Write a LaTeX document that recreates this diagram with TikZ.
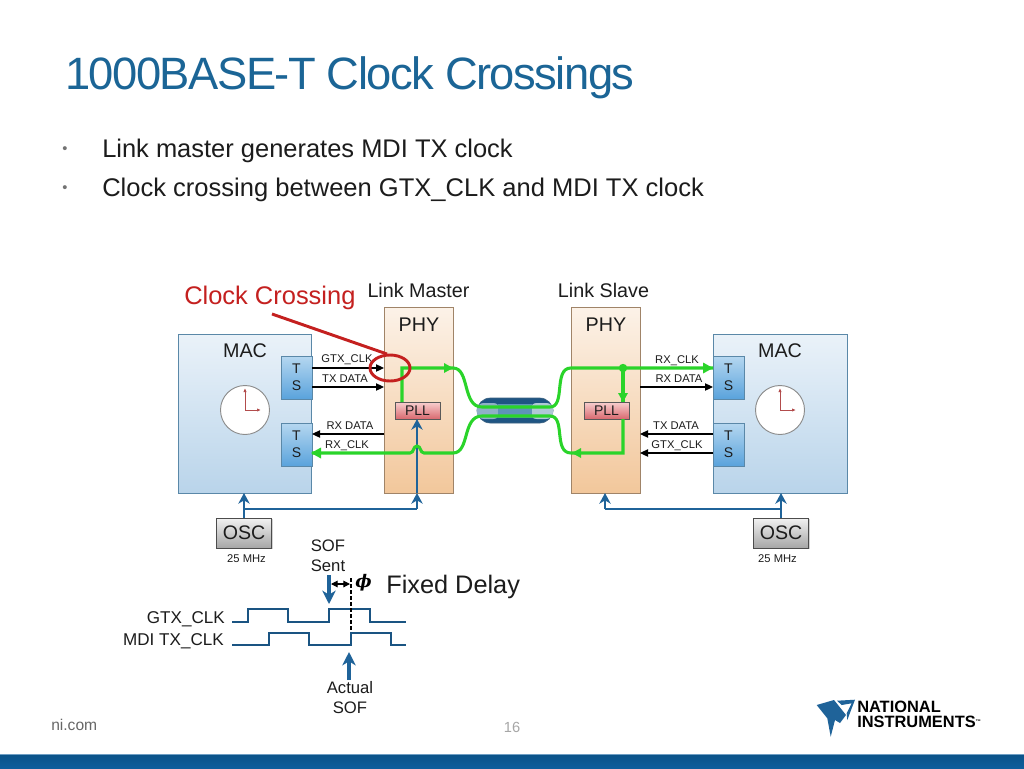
\documentclass[tikz,border=0pt]{standalone}
\usepackage{fontspec}
\setmainfont{Liberation Sans}
\newfontfamily\titlefont[LetterSpace=-3.4]{Liberation Sans}
\newfontfamily\phifont{DejaVu Serif}
\usetikzlibrary{arrows.meta,shadows,calc}
\definecolor{titleblue}{HTML}{1B6596}
\definecolor{wireblue}{HTML}{1F6399}
\definecolor{greenw}{HTML}{2AD42A}
\definecolor{txt}{HTML}{1C1C1C}
\definecolor{crossred}{HTML}{C4201F}
\definecolor{frameblue}{HTML}{5A88A8}
\definecolor{frametan}{HTML}{A08468}
\definecolor{macT}{HTML}{EAF2F9}
\definecolor{macB}{HTML}{B9D4EA}
\definecolor{phyT}{HTML}{FCF2E8}
\definecolor{phyB}{HTML}{F2C79B}
\definecolor{tsT}{HTML}{B5D7F0}
\definecolor{tsB}{HTML}{5AA3DC}
\definecolor{pllT}{HTML}{F8CFCF}
\definecolor{pllB}{HTML}{D9696F}
\definecolor{oscT}{HTML}{F2F2F2}
\definecolor{oscB}{HTML}{A6A6A6}
\definecolor{barT}{HTML}{0B5288}
\definecolor{barB}{HTML}{0E5E9C}
\definecolor{cableD}{HTML}{1F5583}
\definecolor{cableM}{HTML}{5E93B8}
\definecolor{cableL}{HTML}{8FB0C6}
\definecolor{cableP}{HTML}{AFC8D6}
\tikzset{
  macshape/.style={draw=frameblue,line width=.7pt,inner sep=0,outer sep=0,rectangle,
    top color=macT,bottom color=macB},
  physhape/.style={draw=frametan,line width=.7pt,inner sep=0,outer sep=0,rectangle,
    top color=phyT,bottom color=phyB,
    minimum width=51.75pt,minimum height=139.5pt},
  tsshape/.style={draw=frameblue,line width=.6pt,inner sep=0,outer sep=0,rectangle,
    top color=tsT,bottom color=tsB,
    minimum width=23.25pt,minimum height=32.25pt,align=center,
    font=\fontsize{10.5}{12.5}\selectfont,text=txt},
  pllshape/.style={draw=black!65,line width=.7pt,inner sep=0,outer sep=0,rectangle,
    top color=pllT,bottom color=pllB,
    minimum width=33.75pt,minimum height=12.75pt,font=\fontsize{10.5}{10.5}\selectfont,text=txt},
  oscshape/.style={draw=black!70,line width=.7pt,inner sep=0,outer sep=0,rectangle,
    top color=oscT,bottom color=oscB,
    minimum width=41.5pt,minimum height=22.5pt,font=\fontsize{14.7}{14.7}\selectfont,text=txt,
    drop shadow={shadow xshift=.8pt,shadow yshift=-.8pt,fill=black!35}},
  clockshape/.style={circle,draw=black!45,line width=.7pt,fill=white,minimum size=36.75pt,inner sep=0},
  lab/.style={font=\fontsize{14.8}{14.8}\selectfont,text=txt,inner sep=0},
  smalllab/.style={font=\fontsize{12.5}{12.5}\selectfont,text=txt,inner sep=0,anchor=base},
  clklab/.style={font=\fontsize{12.8}{12.8}\selectfont,text=txt,inner sep=0,anchor=base east},
  siglab/.style={font=\fontsize{8.4}{8.4}\selectfont,text=txt,inner sep=0},
  blk/.style={black,line width=.8pt,-{Triangle[length=6pt,width=5.5pt]}},
  grn/.style={greenw,line width=2.3pt},
  blu/.style={wireblue,line width=2.1pt},
  bluarrow/.style={wireblue,line width=2.1pt,-{Stealth[length=8pt,width=8.5pt,inset=2.5pt]}},
  bigarrow/.style={wireblue,line width=2.3pt,-{Stealth[length=10pt,width=10pt,inset=3pt]}},
  wave/.style={draw=wireblue!85!black,line width=.9pt},
  hand/.style={draw=red!40!gray,line width=.7pt,-{Latex[length=3pt,width=2.5pt]}},
}
\begin{document}
\begin{tikzpicture}[x=.75pt,y=-.75pt]
\useasboundingbox (0,0) rectangle (1024,768);
\fill[white] (0,0) rectangle (1024,768);
% footer bar
\shade[top color=barT,bottom color=barB] (0,754) rectangle (1024,768);
\fill[barB!60!white] (0,754) rectangle (1024,755);
% title and bullets
\node[anchor=base west,inner sep=0,text=titleblue,font=\fontsize{34}{34}\titlefont] (title) at (65,89) {1000BASE-T Clock Crossings};
\node[anchor=base,inner sep=0,text=black!55,font=\fontsize{11}{11}\selectfont] (b1) at (65,153) {•};
\node[anchor=base,inner sep=0,text=black!55,font=\fontsize{11}{11}\selectfont] (b2) at (65,192) {•};
\node[anchor=base west,inner sep=0,text=txt,font=\fontsize{19.1}{19.1}\selectfont] (t1) at (102,157) {Link master generates MDI TX clock};
\node[anchor=base west,inner sep=0,text=txt,font=\fontsize{19.15}{19.15}\selectfont] (t2) at (102,196) {Clock crossing between GTX\_CLK and MDI TX clock};
% boxes
\node[macshape,minimum width=99.75pt,minimum height=119.25pt,anchor=north west] (macL) at (178,334) {};
\node[macshape,minimum width=100.5pt,minimum height=119.25pt,anchor=north west] (macR) at (713,334) {};
\node[physhape,anchor=north west] (phyL) at (384,307) {};
\node[physhape,anchor=north west] (phyR) at (571,307) {};
\node[lab] (macLt) at (245,351) {MAC};
\node[lab] (macRt) at (780,351) {MAC};
\node[lab] (phyLt) at (419,325) {PHY};
\node[lab] (phyRt) at (606,325) {PHY};
\node[tsshape,anchor=north west] (tsLa) at (281,356) {T\\S};
\node[tsshape,anchor=north west] (tsLb) at (281,423) {T\\S};
\node[tsshape,anchor=north west] (tsRa) at (713,356) {T\\S};
\node[tsshape,anchor=north west] (tsRb) at (713,423) {T\\S};
\node[clockshape] (clkL) at (245,410) {};
\node[clockshape] (clkR) at (780,410) {};
\draw[hand] (clkL.center) -- ++(0,-22);
\draw[hand] (clkL.center) -- ++(16,0);
\draw[hand] (clkR.center) -- ++(0,-22);
\draw[hand] (clkR.center) -- ++(16,0);
% cable
\path[draw=cableD!70!gray,line width=.5pt,fill=cableD,rounded corners=10pt] (477,398) rectangle (553,423);
\fill[cableL,rounded corners=5pt] (477,403) rectangle (500,419);
\fill[cableP,rounded corners=5pt] (530,403) rectangle (553,419);
\fill[cableM] (498,404) rectangle (532,418);
\node[pllshape] (pllL) at (417.5,410.5) {PLL};
\node[pllshape] (pllR) at (606.5,410.5) {PLL};
% coordinates
\coordinate (cabLt) at (482,407);
\coordinate (cabLb) at (482,416);
\coordinate (cabRt) at (550,407);
\coordinate (cabRb) at (550,416);
\coordinate (lTop) at (453,368);
\coordinate (lBot) at (453,453);
\coordinate (rTop) at (571,368);
\coordinate (rBot) at (571,453);
% black signals
\draw[blk] (tsLa.east |- 0,368) -- (phyL.west |- 0,368);
\draw[blk] (tsLa.east |- 0,387) -- (phyL.west |- 0,387);
\draw[blk] (phyL.west |- 0,434) -- (tsLb.east |- 0,434);
\draw[blk] (phyR.east |- 0,387) -- (tsRa.west |- 0,387);
\draw[blk] (tsRb.west |- 0,434) -- (phyR.east |- 0,434);
\draw[blk] (tsRb.west |- 0,453) -- (phyR.east |- 0,453);
\node[siglab,anchor=base] (l1) at (347,362) {GTX\_CLK};
\node[siglab,anchor=base] (l2) at (345,382) {TX DATA};
\node[siglab,anchor=base] (l3) at (350,429) {RX DATA};
\node[siglab,anchor=base] (l4) at (347,448) {RX\_CLK};
\node[siglab,anchor=base] (r1) at (677,363) {RX\_CLK};
\node[siglab,anchor=base] (r2) at (679,382) {RX DATA};
\node[siglab,anchor=base] (r3) at (676,429) {TX DATA};
\node[siglab,anchor=base] (r4) at (677,448) {GTX\_CLK};
% blue clocks
\node[oscshape] (oscL) at (244,533) {OSC};
\node[oscshape] (oscR) at (781,533) {OSC};
\coordinate (busL) at (244,509);
\coordinate (busLp) at (417,509);
\coordinate (busR) at (781,509);
\coordinate (busRp) at (605,509);
\draw[blu] (oscL.north) -- (busL) -- (busLp);
\draw[blu] (oscR.north) -- (busR) -- (busRp);
\draw[bluarrow] (busL) -- (macL.south -| busL);
\draw[bluarrow] (busLp) -- (phyL.south -| busLp);
\draw[bluarrow] (busR) -- (macR.south -| busR);
\draw[bluarrow] (busRp) -- (phyR.south -| busRp);
\draw[bluarrow] (phyL.south -| busLp) -- (pllL.south -| busLp);
% green wires
\draw[grn] (pllL.north -| 402,0) -- (402,368) -- (lTop) .. controls (470,368) and (462,407) .. (cabLt) -- (cabRt) .. controls (566,407) and (553,368) .. (rTop) -- (tsRa.west |- rTop);
\draw[grn] (cabLb) .. controls (462,416) and (470,453) .. (lBot) -- (424,453) .. controls (420,453) and (421,446) .. (417,446) .. controls (413,446) and (414,453) .. (410,453) -- (tsLb.east |- lBot);
\draw[grn] (cabLb) -- (cabRb) .. controls (566,416) and (553,453) .. (rBot) -- (623,453) -- (pllR.south -| 623,0);
\draw[grn] (623,368) -- (pllR.north -| 623,0);
\fill[greenw] (623,368) circle (4.2);
\fill[greenw] (453,368) -- ++(-9,-5) -- ++(0,10) -- cycle;
\fill[greenw] (713,368) -- ++(-10,-5.5) -- ++(0,11) -- cycle;
\fill[greenw] (623,402) -- ++(-5,-9) -- ++(10,0) -- cycle;
\fill[greenw] (572,453) -- ++(9,-5) -- ++(0,10) -- cycle;
\fill[greenw] (311,453) -- ++(10,-5.5) -- ++(0,11) -- cycle;
% red call-out
\draw[crossred,line width=2.2pt] (390,368) ellipse (20 and 13);
\coordinate (callout) at (272,314);
\draw[crossred,line width=2.2pt] (callout) -- (387,354);
\node[anchor=base west,inner sep=0,text=crossred,font=\fontsize{19.1}{19.1}\selectfont] (cc) at (184,304) {Clock Crossing};
\node[lab,anchor=base] (lm) at (418.5,297) {Link Master};
\node[lab,anchor=base] (ls) at (603.5,297) {Link Slave};
\node[siglab] (m1) at (246.5,559) {25 MHz};
\node[siglab] (m2) at (777.5,559) {25 MHz};
% timing
\draw[wave] (232,622) -- (248,622) -- (248,609) -- (288,609) -- (288,622) -- (329,622) -- (329,609) -- (370,609) -- (370,622) -- (406,622);
\draw[wave] (232,645) -- (269,645) -- (269,633) -- (309,633) -- (309,645) -- (351,645) -- (351,633) -- (391,633) -- (391,645) -- (406,645);
\coordinate (dashT) at (351,578);
\coordinate (dashB) at (351,631);
\draw[black,line width=.9pt,dash pattern=on 3pt off 1.5pt] (dashT) -- (dashB);
\coordinate (sofT) at (329,575);
\coordinate (sofB) at (329,604);
\draw[bigarrow] (sofT) -- (sofB);
\coordinate (dblL) at (331,584);
\coordinate (dblR) at (350,584);
\draw[black,line width=.8pt,{Triangle[length=5pt,width=5pt]}-{Triangle[length=5pt,width=5pt]}] (dblL) -- (dblR);
\coordinate (actB) at (349,680);
\coordinate (actT) at (349,652);
\draw[bigarrow] (actB) -- (actT);
\node[smalllab] (sof1) at (328,551) {SOF};
\node[smalllab] (sof2) at (328,571) {Sent};
\node[smalllab] (act1) at (350,693) {Actual};
\node[smalllab] (act2) at (350,713) {SOF};
\node[clklab] (g) at (225,623) {GTX\_CLK};
\node[clklab] (g2) at (224,645) {MDI TX\_CLK};
\node[inner sep=0,text=black,font=\fontsize{13}{13}\phifont\bfseries\itshape] (phi) at (363.5,583) {ϕ};
\node[anchor=base west,inner sep=0,text=txt,font=\fontsize{19}{19}\selectfont] (fd) at (386,593) {Fixed Delay};
% footer text
\node[anchor=base west,inner sep=0,text=black!60,font=\fontsize{11.7}{11.7}\selectfont] (ni) at (51,730) {ni.com};
\node[inner sep=0,text=black!35,font=\fontsize{11}{11}\selectfont] (pg) at (512,727) {16};
% logo
\fill[wireblue] (816.7,705) -- (834,700) -- (846,715) -- (840,723) -- (835,720) -- (830.7,736.7) -- (827.3,718.3) -- cycle;
\fill[wireblue] (837,700.7) -- (855,699.7) -- (851.7,708.3) -- (847.3,720) -- (846.7,713.3) -- (851.7,703.3) -- (841.7,705) -- cycle;
\node[anchor=north west,inner sep=0,text=black,align=left,font=\bfseries\fontsize{12.3}{11.4}\selectfont] (nilogo) at (857,701) {NATIONAL\\INSTRUMENTS\raisebox{3pt}{\fontsize{4}{4}\selectfont ™}};
\end{tikzpicture}
\end{document}
